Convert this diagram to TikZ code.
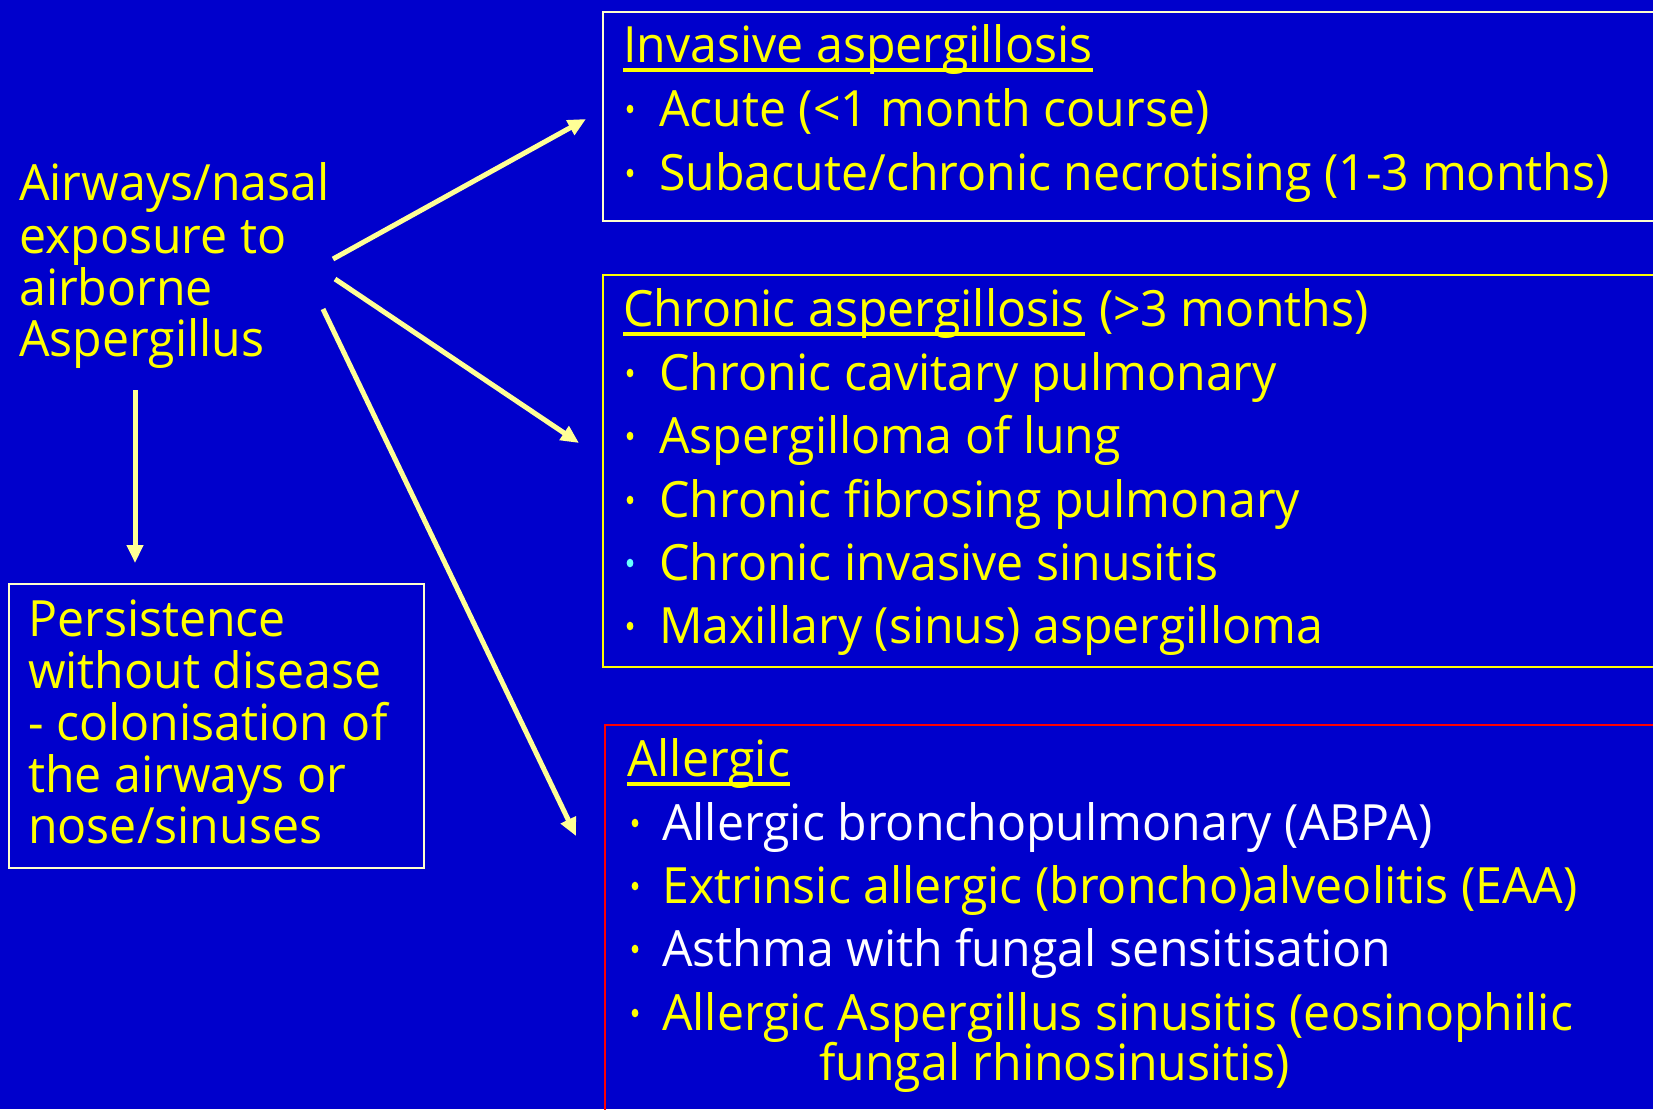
\documentclass[tikz,border=0pt]{standalone}
\usepackage{fontspec}
\setmainfont{Open Sans}[FakeStretch=0.965]
\usetikzlibrary{arrows.meta}
\definecolor{bg}{RGB}{0,0,204}
\definecolor{ylw}{RGB}{255,255,0}
\definecolor{arrc}{RGB}{255,255,150}
\definecolor{cream}{RGB}{255,255,204}
\definecolor{cyanb}{RGB}{102,255,255}
\begin{document}
\begin{tikzpicture}[x=1pt,y=-1pt,
  txt/.style={anchor=base west, inner sep=0pt, font=\fontsize{50}{60}\selectfont, text=ylw},
  wtxt/.style={txt, text=white},
  boxst/.style={draw, line width=2pt, anchor=north west, inner sep=0pt},
  conn/.style={draw=arrc, line width=5pt, -{Triangle[length=18pt,width=16pt]}},
  uline/.style={draw=ylw, line width=3.5pt},
  bul/.style={fill=ylw}
]
\useasboundingbox (0,0) rectangle (1653,1109);
\fill[bg] (0,0) rectangle (1653,1109);
\clip (0,0) rectangle (1653,1109);

% boxes
\node[boxst, draw=cream, minimum width=1060pt, minimum height=209.5pt] (inv) at (602,10.5) {};
\node[boxst, draw=ylw, minimum width=1060pt, minimum height=392pt] (chr) at (602,274) {};
\node[boxst, draw=red, minimum width=1060pt, minimum height=400pt] (all) at (604,724) {};
\node[boxst, draw=cream, minimum width=415pt, minimum height=284pt] (per) at (8,583) {};

% left texts
\node[txt] (e1) at (19,200) {Airways/nasal};
\node[txt] (e2) at (19,253) {exposure to};
\node[txt] (e3) at (19,305) {airborne};
\node[txt] (e4) at (19,356) {Aspergillus};

\node[txt] (p1) at (28,636) {Persistence};
\node[txt] (p2) at (28,688) {without disease};
\node[txt] (p3) at (28,740) {- colonisation of};
\node[txt] (p4) at (28,792) {the airways or};
\node[txt] (p5) at (28,843) {nose/sinuses};

% invasive box
\node[txt] (i0) at (623,62) {Invasive aspergillosis};
\draw[uline] ([yshift=-8pt]i0.base west) -- ([yshift=-8pt]i0.base east);
\node[txt] (i1) at (659,126) {Acute (<1 month course)};
\node[txt] (i2) at (659,190) {Subacute/chronic necrotising (1-3 months)};

% chronic box
\node[txt] (c0) at (623,326) {Chronic aspergillosis};
\draw[uline] ([yshift=-8pt]c0.base west) -- ([yshift=-8pt]c0.base east);
\node[txt, anchor=base west] (c0b) at ([xshift=14pt]c0.base east) {(>3 months)};
\node[txt] (c1) at (659,390) {Chronic cavitary pulmonary};
\node[txt] (c2) at (659,453) {Aspergilloma of lung};
\node[txt] (c3) at (659,517) {Chronic fibrosing pulmonary};
\node[txt] (c4) at (659,580) {Chronic invasive sinusitis};
\node[txt] (c5) at (659,643) {Maxillary (sinus) aspergilloma};

% allergic box
\node[txt] (a0) at (627,776) {Allergic};
\draw[uline] ([yshift=-8pt]a0.base west) -- ([yshift=-8pt]a0.base east);
\node[wtxt] (a1) at (662,840) {Allergic bronchopulmonary (ABPA)};
\node[txt] (a2) at (662,903) {Extrinsic allergic (broncho)alveolitis (EAA)};
\node[wtxt] (a3) at (662,966) {Asthma with fungal sensitisation};
\node[txt] (a4) at (662,1030) {Allergic Aspergillus sinusitis (eosinophilic};
\node[txt] (a5) at (819,1080) {fungal rhinosinusitis)};

% bullets
\foreach \n in {i1,i2,c1,c2,c3,c5}
  \fill[bul] ([xshift=-29pt,yshift=17pt]\n.base west) ellipse (3.4pt and 4.3pt);
\fill[cyanb] ([xshift=-29pt,yshift=17pt]c4.base west) ellipse (3.4pt and 4.3pt);
\foreach \n in {a1,a2,a3,a4}
  \fill[bul] ([xshift=-27pt,yshift=17pt]\n.base west) ellipse (3.4pt and 4.3pt);

% connectors
\coordinate (s1) at (333,259);
\coordinate (t1) at (586,119);
\coordinate (s2) at (335,279);
\coordinate (t2) at (579,443);
\coordinate (s3) at (323,309);
\coordinate (t3) at (576,836);
\coordinate (sv) at (135,390);
\coordinate (tv) at (135,563);
\draw[conn] (s1) -- (t1);
\draw[conn] (s2) -- (t2);
\draw[conn] (s3) -- (t3);
\draw[conn] (sv) -- (tv);
\end{tikzpicture}
\end{document}
